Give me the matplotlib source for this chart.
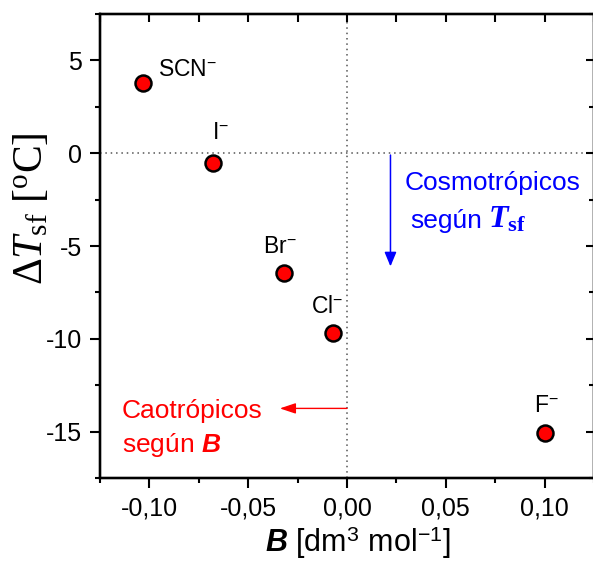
import matplotlib
matplotlib.use('Agg')
import matplotlib.pyplot as plt
from matplotlib.ticker import MultipleLocator, FuncFormatter

# data
ions = ['SCN', 'I', 'Br', 'Cl', 'F']
B_coef = [-0.103, -0.068, -0.032, -0.007, 0.100]
dT_sf = [3.8, -0.55, -6.45, -9.7, -15.1]

# label offsets (points) for each ion
label_dx = [10.8, 5.8, -2.9, -4.3, 1.4]
label_dy = [9.4, 22.3, 18.7, 19.4, 20.0]
label_ha = ['left', 'center', 'center', 'center', 'center']

# guide arrows (data coords)
blue_x, blue_y0, blue_y1 = 0.022, -0.1, -6.1
red_y, red_x0, red_x1 = -13.75, 0.0, -0.034

plt.rcParams['font.family'] = ['Liberation Sans', 'DejaVu Sans']
plt.rcParams['mathtext.fontset'] = 'custom'
plt.rcParams['mathtext.rm'] = 'Liberation Serif'
plt.rcParams['mathtext.it'] = 'Liberation Serif:italic'
plt.rcParams['mathtext.bf'] = 'Liberation Serif:bold'
plt.rcParams['mathtext.bfit'] = 'Liberation Serif:italic:bold'
plt.rcParams['mathtext.sf'] = 'Liberation Sans:italic:bold'


def fmt_x(v, pos):
    if abs(v) < 1e-9:
        v = 0.0
    return ('%.2f' % v).replace('.', ',')


def fmt_y(v, pos):
    if abs(v) < 1e-9:
        v = 0.0
    return '%g' % v


fig = plt.figure(figsize=(5.93, 5.62), dpi=100)
ax = fig.add_axes([100 / 593, 84 / 562, 494 / 593, 464 / 562])

ax.axhline(0, color='#555555', ls=(0, (1, 2.5)), lw=1.1, zorder=1)
ax.axvline(0, color='#555555', ls=(0, (1, 2.5)), lw=1.1, zorder=1)

ax.plot(B_coef, dT_sf, 'o', ms=11.5, mfc='#FF0000', mec='black', mew=1.8,
        zorder=3, clip_on=False)

for name, x, y, dx, dy, ha in zip(ions, B_coef, dT_sf, label_dx, label_dy, label_ha):
    ax.annotate(name + r'$^{\mathregular{-}}$', (x, y), xytext=(dx, dy),
                textcoords='offset points', ha=ha, va='center', fontsize=16.5)

xlim = (-0.125, 0.125)
ylim = (-17.5, 7.5)
ax.set_xlim(xlim)
ax.set_ylim(ylim)
ax.xaxis.set_major_locator(MultipleLocator(0.05))
ax.xaxis.set_minor_locator(MultipleLocator(0.025))
ax.yaxis.set_major_locator(MultipleLocator(5))
ax.yaxis.set_minor_locator(MultipleLocator(2.5))
ax.xaxis.set_major_formatter(FuncFormatter(fmt_x))
ax.yaxis.set_major_formatter(FuncFormatter(fmt_y))
ax.tick_params(which='major', direction='out', length=7, width=1.5,
               labelsize=18, pad=6)
ax.tick_params(which='minor', direction='out', length=3.5, width=1.5)
for sp in ax.spines.values():
    sp.set_linewidth(1.6)

# mirrored ticks pointing inwards on top and right
top = ax.twiny()
top.set_xlim(xlim)
top.xaxis.set_major_locator(MultipleLocator(0.05))
top.xaxis.set_minor_locator(MultipleLocator(0.025))
top.tick_params(which='both', direction='in', length=6, width=1.5,
                labeltop=False, top=True, bottom=False)
right = ax.twinx()
right.set_ylim(ylim)
right.yaxis.set_major_locator(MultipleLocator(5))
right.yaxis.set_minor_locator(MultipleLocator(2.5))
right.tick_params(which='major', direction='in', length=6, width=1.5,
                  labelright=False, right=True, left=False)
right.tick_params(which='minor', direction='in', length=3.5, width=1.5)
for a in (top, right):
    for sp in a.spines.values():
        sp.set_linewidth(1.6)

# arrows and notes
ax.annotate('', xy=(blue_x, blue_y1), xytext=(blue_x, blue_y0),
            arrowprops=dict(arrowstyle='-|>,head_length=0.48,head_width=0.2',
                            mutation_scale=18, color='#0000FF', lw=1.1,
                            shrinkA=0, shrinkB=0))
ax.annotate('', xy=(red_x1, red_y), xytext=(red_x0, red_y),
            arrowprops=dict(arrowstyle='-|>,head_length=0.6,head_width=0.2',
                            mutation_scale=16, color='#FF0000', lw=1.0,
                            shrinkA=0, shrinkB=0))
ax.text(0.029, -1.96, 'Cosmotrópicos', color='#0000FF', fontsize=19, va='baseline')
ax.text(0.032, -4.01, 'según', color='#0000FF', fontsize=19, va='baseline')
ax.text(0.0715, -4.01, r'$\mathbfit{T}_{\mathbf{sf}}$', color='#0000FF',
        fontsize=23, va='baseline')
ax.text(-0.114, -14.27, 'Caotrópicos', color='#FF0000', fontsize=19, va='baseline')
ax.text(-0.114, -16.10, r'según $\mathsf{B}$', color='#FF0000', fontsize=19,
        va='baseline')

fig.text(31 / 593, 1 - 209 / 562, r'$\Delta T_{\mathrm{sf}}$ [$^{\mathrm{o}}$C]',
         rotation=90, ha='center', va='center', fontsize=30,
         family='Liberation Serif')
fig.text(358 / 593, 10 / 562, r'$\mathsf{B}$ [dm$^{\mathregular{3}}$ mol$^{\mathregular{-1}}$]',
         ha='center', va='baseline', fontsize=22)

fig.savefig('out.png', dpi=100)
